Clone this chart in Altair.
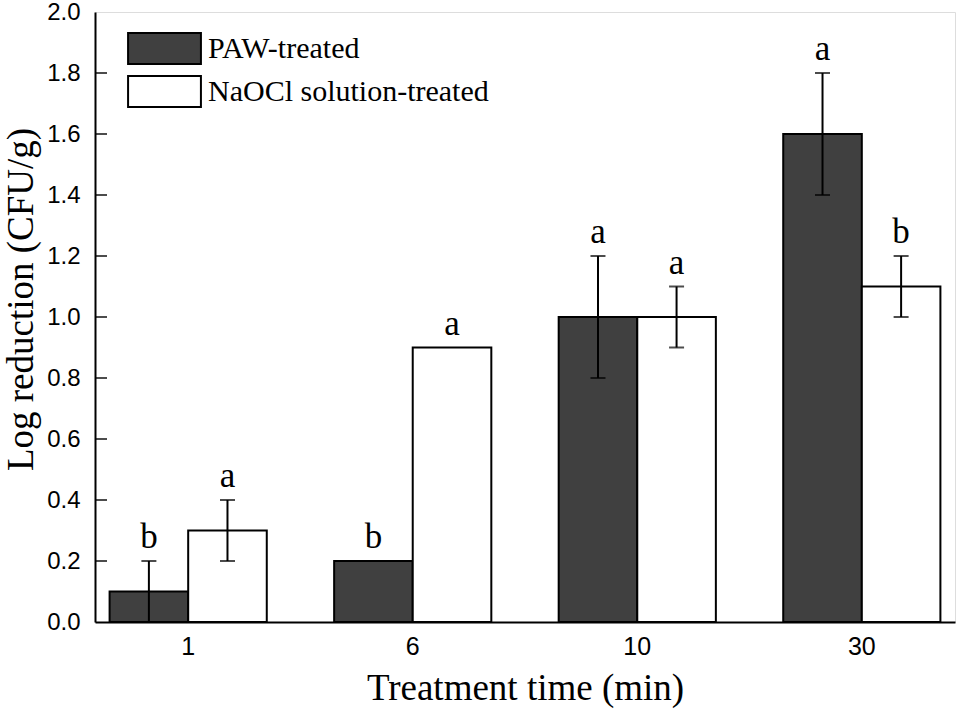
import altair as alt
import pandas as pd

times = ["1", "6", "10", "30"]
treatments = ["PAW-treated", "NaOCl solution-treated"]
paw_mean = [0.1, 0.2, 1.0, 1.6]
paw_err = [0.1, 0.0, 0.2, 0.2]
paw_letters = ["b", "b", "a", "a"]
naocl_mean = [0.3, 0.9, 1.0, 1.1]
naocl_err = [0.1, 0.0, 0.1, 0.1]
naocl_letters = ["a", "a", "a", "b"]
y_ticks = [0.0, 0.2, 0.4, 0.6, 0.8, 1.0, 1.2, 1.4, 1.6, 1.8, 2.0]
inner_ticks = [0.2, 0.4, 0.6, 0.8, 1.0, 1.2, 1.4, 1.6, 1.8]

rows = []
for i, t in enumerate(times):
    rows.append(dict(time=t, treatment=treatments[0], mean=paw_mean[i], err=paw_err[i], letter=paw_letters[i]))
    rows.append(dict(time=t, treatment=treatments[1], mean=naocl_mean[i], err=naocl_err[i], letter=naocl_letters[i]))
df = pd.DataFrame(rows)
df["lo"] = df["mean"] - df["err"]
df["hi"] = df["mean"] + df["err"]

SERIF = "Liberation Serif"
SANS = "Liberation Sans"

x_enc = alt.X("time:N", sort=times, title="Treatment time (min)",
              scale=alt.Scale(paddingInner=0.3, paddingOuter=0.065),
              axis=alt.Axis(labelAngle=0, ticks=False, labelPadding=12, labelFont=SANS,
                            labelFontSize=25, titleFont=SERIF, titleFontSize=37,
                            titleFontWeight="normal", titlePadding=11, labelColor="black",
                            titleColor="black", domainColor="black", domainWidth=2))
xoff = alt.XOffset("treatment:N", sort=treatments, scale=alt.Scale(paddingInner=0, paddingOuter=0))
y_scale = alt.Scale(domain=[0, 2.0], nice=False)
y_axis = alt.Axis(values=y_ticks, format=".1f", ticks=False, labelPadding=15, labelFont=SANS,
                  labelFontSize=24, titleFont=SERIF, titleFontSize=37, titleFontWeight="normal",
                  titleColor="black", labelColor="black", domainColor="black", domainWidth=2,
                  grid=False, titleAngle=-90, titleBaseline="alphabetic", titleX=-63, titleY=287,
                  titleAlign="center")

base = alt.Chart(df)

bars = base.mark_bar(stroke="black", strokeWidth=2).encode(
    x=x_enc,
    xOffset=xoff,
    y=alt.Y("mean:Q", scale=y_scale, axis=y_axis, title="Log reduction (CFU/g)"),
    color=alt.Color("treatment:N", sort=treatments,
                    scale=alt.Scale(domain=treatments, range=["#404040", "#ffffff"]),
                    legend=alt.Legend(title=None, orient="none", legendX=53, legendY=20,
                                      padding=0, symbolType="M-2.35,-1H2.35V1H-2.35Z",
                                      symbolSize=961, symbolStrokeColor="black",
                                      symbolStrokeWidth=2, symbolOpacity=1,
                                      labelFont=SERIF, labelFontSize=30, labelColor="black",
                                      labelOffset=27, rowPadding=4, labelLimit=400)),
)

errs = base.transform_filter("datum.err > 0")
stems = errs.mark_rule(color="black", strokeWidth=2).encode(
    x=alt.X("time:N", sort=times), xOffset=xoff, y="lo:Q", y2="hi:Q")
caps_lo = errs.mark_tick(color="black", thickness=2, size=15, orient="horizontal").encode(
    x=alt.X("time:N", sort=times), xOffset=xoff, y="lo:Q")
caps_hi = errs.mark_tick(color="black", thickness=2, size=15, orient="horizontal").encode(
    x=alt.X("time:N", sort=times), xOffset=xoff, y="hi:Q")

letters = base.mark_text(font=SERIF, fontSize=35, baseline="alphabetic", dy=-13, color="black").encode(
    x=alt.X("time:N", sort=times), xOffset=xoff, y="hi:Q", text="letter:N")

tick_df = pd.DataFrame({"v": inner_ticks})
yticks = alt.Chart(tick_df).mark_tick(color="black", thickness=2, size=12, orient="horizontal").encode(
    y=alt.Y("v:Q", scale=y_scale), x=alt.value(6))

chart = alt.layer(bars, stems, caps_lo, caps_hi, letters, yticks).properties(
    width=860, height=610,
    padding={"left": 95, "top": 12, "right": 4, "bottom": 87},
    autosize=alt.AutoSizeParams(type="none"),
).configure_view(stroke="black", strokeWidth=2).configure(background="white")

chart.save("out.html", embed_options={"renderer": "svg", "actions": False})
